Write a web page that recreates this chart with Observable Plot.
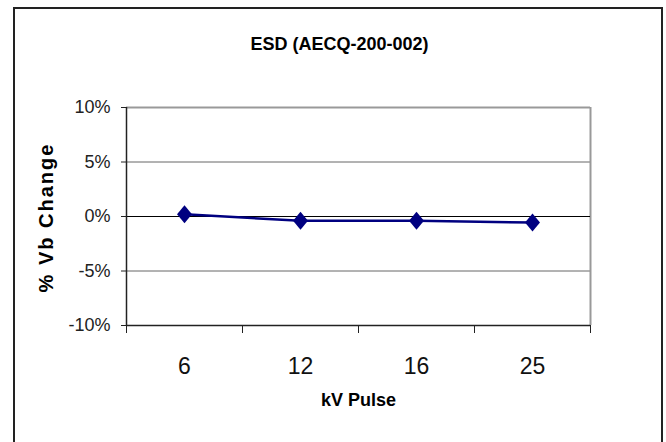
<!DOCTYPE html>
<html>
<head>
<meta charset="utf-8">
<script src="https://cdn.jsdelivr.net/npm/d3@7"></script>
<script src="https://cdn.jsdelivr.net/npm/@observablehq/plot@0.6"></script>
<style>
  html, body { margin: 0; padding: 0; background: #fff; }
  #wrap { position: relative; width: 666px; height: 442px; overflow: hidden; }
  #border { position: absolute; left: 13px; top: 7px; width: 646px; height: 500px; border: 2px solid #222; }
  #chart { position: absolute; left: 0; top: 0; }
</style>
</head>
<body>
<div id="wrap"><div id="border"></div><div id="chart"></div></div>
<script>
const title = "ESD (AECQ-200-002)";
const xTitle = "kV Pulse";
const yTitle = "% Vb Change";
const categories = ["6", "12", "16", "25"];
const values = [0.2, -0.4, -0.4, -0.55];
const yTicks = [-10, -5, 0, 5, 10];

const data = categories.map((c, i) => ({cat: c, idx: i + 1, v: values[i]}));
const boundaries = d3.range(0, categories.length + 1).map(i => i + 0.5);

const diamond = {
  draw(ctx, size) {
    const h = Math.sqrt(size / Math.PI);
    const w = h * 0.83;
    ctx.moveTo(0, -h);
    ctx.lineTo(w, 0);
    ctx.lineTo(0, h);
    ctx.lineTo(-w, 0);
    ctx.closePath();
  }
};

const font = "'Liberation Sans', Arial, sans-serif";

const chart = Plot.plot({
  width: 666,
  height: 442,
  marginLeft: 126,
  marginRight: 76,
  marginTop: 107,
  marginBottom: 117,
  style: {fontFamily: font, background: "transparent", overflow: "visible"},
  x: {type: "linear", domain: [0.5, categories.length + 0.5]},
  y: {domain: [-10, 10]},
  marks: [
    Plot.ruleY([-5, 5], {stroke: "#666", strokeWidth: 1}),
    Plot.ruleY([10], {stroke: "#999", strokeWidth: 2}),
    Plot.ruleX([categories.length + 0.5], {stroke: "#999", strokeWidth: 2}),
    Plot.ruleY([0], {stroke: "#000", strokeWidth: 1}),
    Plot.ruleY([-10], {stroke: "#222", strokeWidth: 1.5}),
    Plot.ruleX([0.5], {stroke: "#222", strokeWidth: 1.5}),
    Plot.axisY({ticks: yTicks, tickSize: 5, tickPadding: 11, tickFormat: d => d + "%", fontSize: 18, stroke: "#222", fill: "#222", label: null}),
    Plot.axisX({ticks: boundaries, tickSize: 8, text: null, stroke: "#222", label: null}),
    Plot.axisX({ticks: data.map(d => d.idx), tickSize: 0, tickPadding: 32, tickFormat: i => categories[i - 1], fontSize: 23, fill: "#111", label: null}),
    Plot.line(data, {x: "idx", y: "v", stroke: "#000080", strokeWidth: 2.5}),
    Plot.dot(data, {x: "idx", y: "v", symbol: diamond, r: 9, fill: "#000080", stroke: "none"}),
    Plot.text([title], {frameAnchor: "top", dy: -70, dx: -19, fontSize: 18, fontWeight: "bold", fill: "#000"}),
    Plot.text([xTitle], {frameAnchor: "bottom", dy: 80, fontSize: 18, fontWeight: "bold", fill: "#000"}),
    Plot.text([yTitle], {frameAnchor: "left", textAnchor: "middle", dx: -80, dy: 1, rotate: -90, fontSize: 20, fontWeight: "bold", fill: "#000"})
  ]
});
d3.select(chart).selectAll("text").filter(function() { return this.textContent === yTitle; }).style("letter-spacing", "2px");
document.getElementById("chart").appendChild(chart);
</script>
</body>
</html>
